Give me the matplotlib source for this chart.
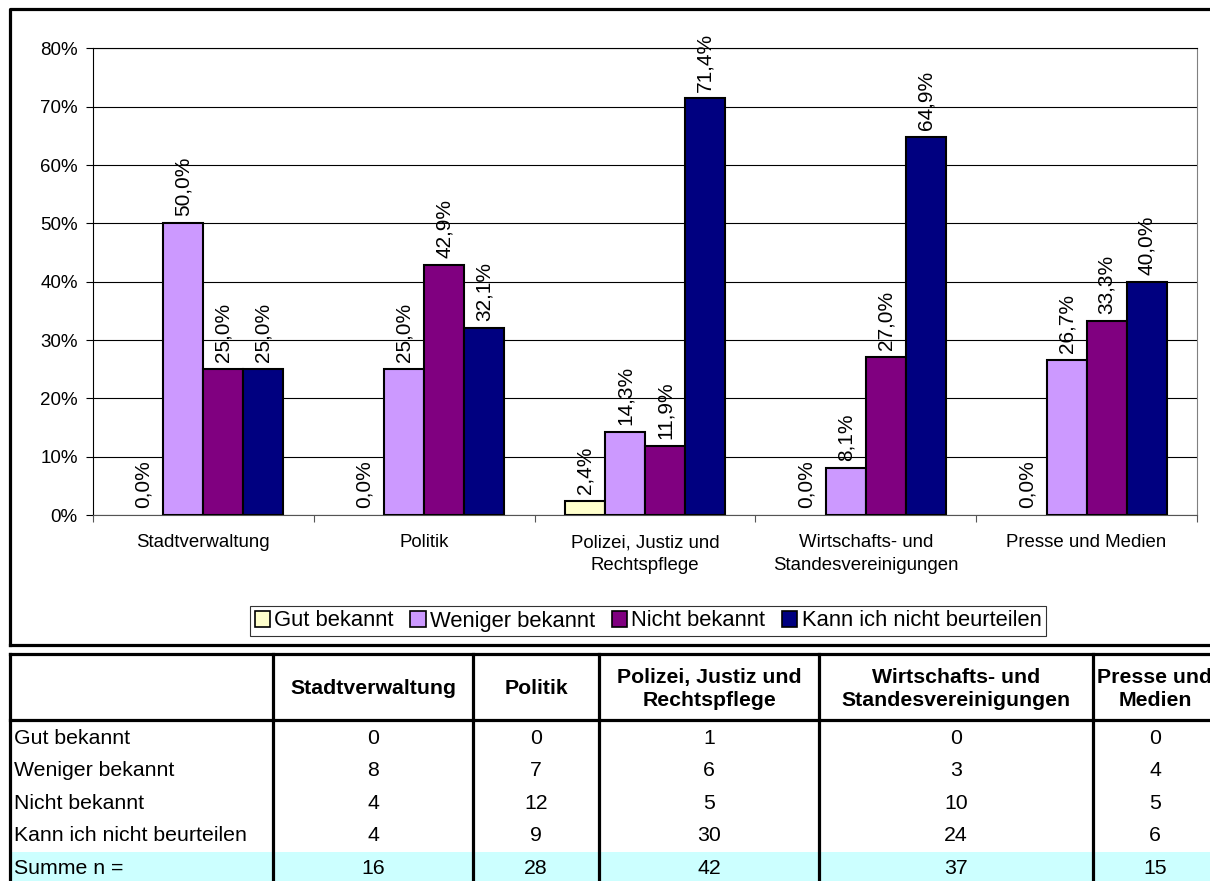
import matplotlib
matplotlib.use('Agg')
import matplotlib.pyplot as plt
from matplotlib.patches import Patch, Rectangle
import numpy as np

plt.rcParams['font.family'] = ['Liberation Sans', 'DejaVu Sans']

# Daten
kategorien = ['Stadtverwaltung', 'Politik', 'Polizei, Justiz und\nRechtspflege',
              'Wirtschafts- und\nStandesvereinigungen', 'Presse und Medien']
kopf = ['Stadtverwaltung', 'Politik', 'Polizei, Justiz und\nRechtspflege',
        'Wirtschafts- und\nStandesvereinigungen', 'Presse und\nMedien']
antworten = ['Gut bekannt', 'Weniger bekannt', 'Nicht bekannt', 'Kann ich nicht beurteilen']
gut = [0, 0, 1, 0, 0]
weniger = [8, 7, 6, 3, 4]
nicht = [4, 12, 5, 10, 5]
kann = [4, 9, 30, 24, 6]
farben = ['#FFFFCC', '#CC99FF', '#800080', '#000080']

anzahl = np.array([gut, weniger, nicht, kann], dtype=float)
summe = anzahl.sum(axis=0)
prozent = anzahl / summe * 100

W, H = 1210, 881
fig = plt.figure(figsize=(W / 100, H / 100), dpi=100)
fig.patch.set_facecolor('white')

# Hilfsachse in Pixelkoordinaten (Rahmen + Tabelle)
bg = fig.add_axes([0, 0, 1, 1], zorder=0)
bg.set_xlim(0, W)
bg.set_ylim(H, 0)
bg.axis('off')

# Rahmen um das Diagramm
bg.plot([10, 10, 1300], [645, 9, 9], color='black', lw=2.3, solid_capstyle='projecting')
bg.plot([10, 1300], [645, 645], color='black', lw=2.3, solid_capstyle='projecting')

# Diagramm
ax = fig.add_axes([93 / W, 1 - 515 / H, (1197 - 93) / W, (515 - 48.5) / H], zorder=2)
ax.set_facecolor('none')
x = np.arange(len(kategorien))
bw = 0.181
for i in range(4):
    pos = x + (i - 1.5) * bw
    kanten = ['black' if p > 0 else 'none' for p in prozent[i]]
    ax.bar(pos, prozent[i], bw, color=farben[i], edgecolor=kanten, lw=1.5,
           label=antworten[i], zorder=3)
    for px, p in zip(pos, prozent[i]):
        ax.annotate(f'{p:.1f}%'.replace('.', ','), (px, p), xytext=(0, 5),
                    textcoords='offset points', rotation=90, ha='center', va='bottom',
                    fontsize=15)

ax.set_xlim(-0.5, len(kategorien) - 0.5)
ax.set_ylim(0, 80)
ax.set_yticks(range(0, 81, 10))
ax.set_yticklabels([f'{v}%' for v in range(0, 81, 10)], fontsize=13.5)
ax.yaxis.grid(True, color='black', lw=0.8)
ax.set_axisbelow(True)
ax.set_xticks(np.arange(-0.5, len(kategorien)), minor=False)
ax.set_xticklabels([])
ax.set_xticks(x, minor=True)
ax.set_xticklabels(kategorien, minor=True, fontsize=13.4, linespacing=1.45)
ax.tick_params(axis='x', which='minor', length=0, pad=14)
ax.tick_params(axis='x', which='major', length=5, width=0.8, color='#555555')
ax.tick_params(axis='y', length=5, width=0.8, pad=6)
ax.spines['top'].set_color('black')
ax.spines['top'].set_linewidth(0.8)
ax.spines['right'].set_color('#808080')
ax.spines['right'].set_linewidth(0.8)
ax.spines['left'].set_linewidth(0.8)
ax.spines['bottom'].set_linewidth(0.8)
ax.spines['bottom'].set_color('#555555')

handles = [Patch(facecolor=c, edgecolor='black', lw=1.2) for c in farben]
leg = fig.legend(handles, antworten, loc='center', bbox_to_anchor=(648 / W, 1 - 621 / H),
                 ncol=4, fontsize=15.8, frameon=True, fancybox=False, shadow=False,
                 handlelength=0.7, handleheight=0.7, handletextpad=0.2,
                 columnspacing=0.75, borderpad=0.2, borderaxespad=0)
leg.get_frame().set_edgecolor('black')
leg.get_frame().set_linewidth(0.8)

# Tabelle
spalten = [10, 273, 473, 599, 819, 1093, 1217]
top, kopf_unten = 654, 720
zeilen_h = 32.5
werte = [gut, weniger, nicht, kann, [int(s) for s in summe]]
zeilen_namen = antworten + ['Summe n =']

# Summenzeile hinterlegen
y_summe = kopf_unten + 2 + 4 * zeilen_h
bg.add_patch(Rectangle((10, y_summe), 1300, 60, facecolor='#CCFFFF', edgecolor='none', zorder=1))

lw_t = 2.3
bg.plot([10, 1300], [top, top], color='black', lw=lw_t, zorder=3)
bg.plot([10, 1300], [kopf_unten, kopf_unten], color='black', lw=lw_t, zorder=3)
for sx in spalten[:-1]:
    bg.plot([sx, sx], [top, H + 5], color='black', lw=lw_t, zorder=3)

for j, k in enumerate(kopf):
    cx = (spalten[j + 1] + spalten[j + 2]) / 2
    bg.text(cx, (top + kopf_unten) / 2 + 2, k, ha='center', va='center', fontsize=15.3,
            fontweight='bold', linespacing=1.25, zorder=4)

for r, (name, reihe) in enumerate(zip(zeilen_namen, werte)):
    cy = kopf_unten + 2 + zeilen_h * (r + 0.5)
    bg.text(14, cy, name, ha='left', va='center', fontsize=15.3, zorder=4)
    for j, v in enumerate(reihe):
        cx = (spalten[j + 1] + spalten[j + 2]) / 2
        bg.text(cx, cy, str(v), ha='center', va='center', fontsize=15.3, zorder=4)

fig.savefig('out.png', dpi=100)
